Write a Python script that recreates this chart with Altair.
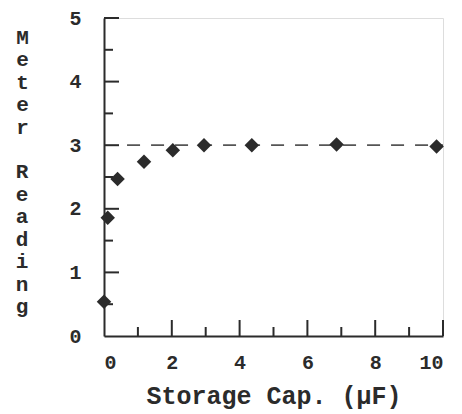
import altair as alt
import pandas as pd

# data
cap_uF = [0.0, 0.11, 0.40, 1.18, 2.03, 2.95, 4.36, 6.86, 9.81]
reading = [0.54, 1.86, 2.47, 2.74, 2.92, 3.00, 3.00, 3.01, 2.98]
dash_x = [0.68, 10.0]
dash_y = [3.0, 3.0]
x_major = [2, 4, 6, 8, 10]
x_minor = [1, 3, 5, 7, 9]
y_major = [1, 2, 3, 4, 5]
y_minor = [0.5, 1.5, 2.5, 3.5, 4.5]
x_labels = [0, 2, 4, 6, 8, 10]
y_labels = [0, 1, 2, 3, 4, 5]
y_title_1 = ["M", "e", "t", "e", "r"]
y_title_2 = ["R", "e", "a", "d", "i", "n", "g"]

W, H = 339, 318
FONT = "Liberation Mono"
INK = "#2b2b2b"
LH = 22.5

xs = alt.Scale(domain=[0, 10], nice=False, zero=False)
ys = alt.Scale(domain=[0, 5], nice=False, zero=False)

pts = pd.DataFrame({"x": cap_uF, "y": reading})
dash = pd.DataFrame({"x": dash_x, "y": dash_y})

base_axes = alt.Chart(pts).mark_point(opacity=0).encode(
    x=alt.X("x:Q", scale=xs, axis=alt.Axis(
        values=x_labels, format="d", ticks=False, grid=False, domainColor=INK, domainWidth=2,
        labelFont=FONT, labelFontSize=20, labelFontWeight="bold", labelColor=INK,
        labelPadding=16,
        title="Storage Cap. (µF)", titleFont=FONT, titleFontSize=25,
        titleFontWeight="bold", titleColor=INK, titleBaseline="alphabetic",
        titleY=67, titleX=W / 2)),
    y=alt.Y("y:Q", scale=ys, axis=alt.Axis(
        values=y_labels, format="d", ticks=False, grid=False, domainColor=INK, domainWidth=2,
        labelFont=FONT, labelFontSize=20, labelFontWeight="bold", labelColor=INK,
        labelPadding=23,
        title=y_title_1, titleFont=FONT, titleFontSize=21, titleFontWeight="bold",
        titleColor=INK, titleAngle=0, titleAlign="center", titleBaseline="top",
        titleX=-82, titleY=8, titleLineHeight=LH)),
)

# second word of the vertical y title (after one blank line)
title2 = alt.Chart(pd.DataFrame({"k": [0]})).mark_text(
    text=y_title_2, font=FONT, fontSize=21, fontWeight="bold", color=INK,
    align="center", baseline="top", lineHeight=LH,
).encode(x=alt.value(-82), y=alt.value(8 + 6 * LH))

def xticks(vals, length):
    return alt.Chart(pd.DataFrame({"x": vals})).mark_rule(color=INK, strokeWidth=2).encode(
        x=alt.X("x:Q", scale=xs), y=alt.value(H), y2=alt.value(H - length))

def yticks(vals, length):
    return alt.Chart(pd.DataFrame({"y": vals})).mark_rule(color=INK, strokeWidth=2).encode(
        y=alt.Y("y:Q", scale=ys), x=alt.value(0), x2=alt.value(length))

dash_line = alt.Chart(dash).mark_line(color="#555555", strokeWidth=1.8, strokeDash=[13, 11]).encode(
    x=alt.X("x:Q", scale=xs), y=alt.Y("y:Q", scale=ys))

points = alt.Chart(pts).mark_point(shape="diamond", filled=True, size=210, color=INK, opacity=1).encode(
    x=alt.X("x:Q", scale=xs), y=alt.Y("y:Q", scale=ys))

chart = alt.layer(
    base_axes, title2,
    xticks(x_major, 16), xticks(x_minor, 9),
    yticks(y_major, 15), yticks(y_minor, 9),
    dash_line, points,
).properties(
    width=W, height=H,
    autosize=alt.AutoSizeParams(type="none"),
    padding={"left": 96, "top": 10, "right": 8, "bottom": 78},
).configure_view(stroke=None).configure(background="white")

chart.save("out.html", embed_options={"renderer": "svg", "actions": False})
